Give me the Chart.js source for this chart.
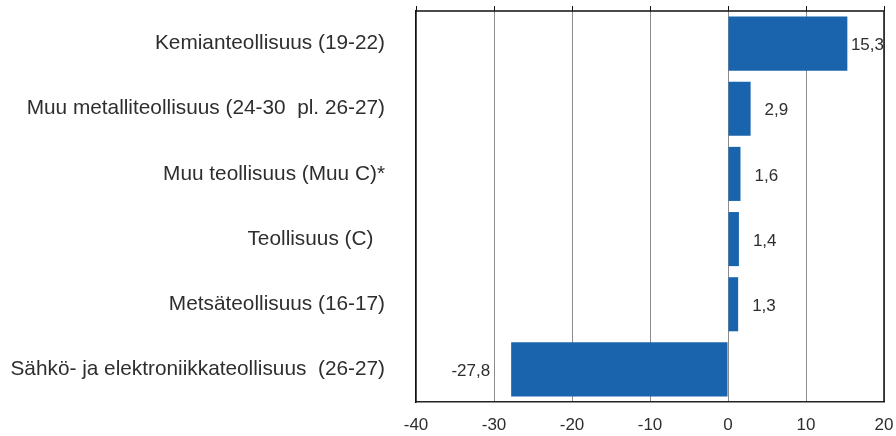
<!DOCTYPE html>
<html>
<head>
<meta charset="utf-8">
<script src="https://cdn.jsdelivr.net/npm/chart.js@4"></script>
<style>
  html, body { margin: 0; padding: 0; background: #fff; }
  #wrap { width: 896px; height: 436px; }
</style>
</head>
<body>
<div id="wrap"><canvas id="chart" width="896" height="436"></canvas></div>
<script>
const categories = [
    "Kemianteollisuus (19-22)",
    "Muu metalliteollisuus (24-30  pl. 26-27)",
    "Muu teollisuus (Muu C)*",
    "Teollisuus (C)  ",
    "Metsäteollisuus (16-17)",
    "Sähkö- ja elektroniikkateollisuus  (26-27)"
];
const values = [15.3, 2.9, 1.6, 1.4, 1.3, -27.8];
const xTicks = [-40, -30, -20, -10, 0, 10, 20];

const barColor = "#1a64ae";
const textColor = "#2e2e2e";
const fontFamily = "'Liberation Sans', Arial, sans-serif";

// value labels next to bar ends, comma decimals
const valueLabels = {
    id: "valueLabels",
    afterDatasetsDraw(chart) {
        const ctx = chart.ctx;
        const area = chart.chartArea;
        const meta = chart.getDatasetMeta(0);
        ctx.save();
        ctx.font = "17px " + fontFamily;
        ctx.fillStyle = textColor;
        ctx.textBaseline = "middle";
        ctx.textAlign = "left";
        meta.data.forEach((bar, i) => {
            const v = values[i];
            const txt = v.toFixed(1).replace(".", ",");
            const w = ctx.measureText(txt).width;
            let x;
            if (v >= 0) {
                x = Math.min(bar.x + 14, area.right - w);
            } else {
                x = bar.x - 21 - w;
            }
            ctx.fillText(txt, x, bar.y + 2);
        });
        ctx.restore();
    }
};

// frame on top/right and small tick marks above the top line
const frame = {
    id: "frame",
    afterDraw(chart) {
        const { ctx, chartArea: a, scales } = chart;
        ctx.save();
        ctx.strokeStyle = "#111";
        ctx.lineWidth = 1.5;
        ctx.beginPath();
        ctx.moveTo(a.left, a.top);
        ctx.lineTo(a.right, a.top);
        ctx.lineTo(a.right, a.bottom);
        ctx.stroke();
        ctx.lineWidth = 1;
        ctx.beginPath();
        xTicks.forEach(t => {
            const x = Math.round(scales.x.getPixelForValue(t)) + 0.5;
            ctx.moveTo(x, a.top - 5);
            ctx.lineTo(x, a.top);
        });
        ctx.stroke();
        ctx.restore();
    }
};

new Chart(document.getElementById("chart"), {
    type: "bar",
    data: {
        labels: categories,
        datasets: [{
            data: values,
            backgroundColor: barColor,
            borderWidth: 0,
            categoryPercentage: 1,
            barPercentage: 0.83
        }]
    },
    options: {
        indexAxis: "y",
        responsive: false,
        animation: false,
        layout: { padding: { left: 0, right: 12, top: 11, bottom: 0 } },
        plugins: {
            legend: { display: false },
            tooltip: { enabled: false }
        },
        scales: {
            x: {
                min: -40,
                max: 20,
                afterBuildTicks(scale) {
                    scale.ticks = xTicks.map(v => ({ value: v }));
                },
                afterFit(scale) {
                    scale.height = 34;
                    scale.paddingLeft = 0;
                    scale.paddingRight = 0;
                },
                grid: { color: "#8c8c8c", lineWidth: 1, drawTicks: false },
                border: { color: "#222", width: 1.5 },
                ticks: {
                    color: textColor,
                    font: { family: fontFamily, size: 17 },
                    padding: 13
                }
            },
            y: {
                afterFit(scale) {
                    scale.width = 416;
                    scale.paddingTop = 0;
                    scale.paddingBottom = 0;
                },
                grid: { display: false },
                border: { color: "#111", width: 1.5 },
                ticks: {
                    color: textColor,
                    font: { family: fontFamily, size: 20.8 },
                    padding: 23
                }
            }
        }
    },
    plugins: [valueLabels, frame]
});
</script>
</body>
</html>
